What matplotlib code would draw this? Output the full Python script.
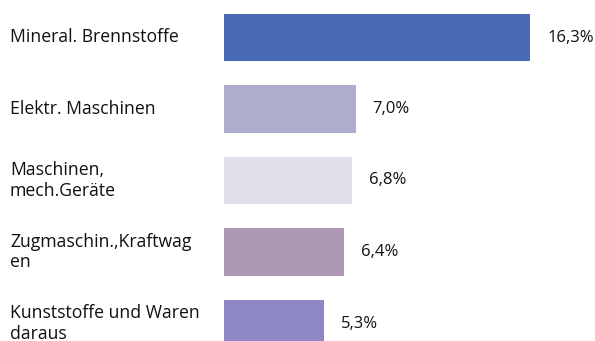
import matplotlib
matplotlib.use("Agg")
import matplotlib.pyplot as plt

categories = [
    "Mineral. Brennstoffe",
    "Elektr. Maschinen",
    "Maschinen,\nmech.Geräte",
    "Zugmaschin.,Kraftwag\nen",
    "Kunststoffe und Waren\ndaraus",
]
shares = [16.3, 7.0, 6.8, 6.4, 5.3]
value_labels = ["16,3%", "7,0%", "6,8%", "6,4%", "5,3%"]
colors = ["#4a6bb3", "#adadcd", "#e1e1ec", "#ad9ab2", "#8d88c4"]


def main() -> None:
    plt.rcParams["font.family"] = ["Open Sans", "DejaVu Sans"]
    fig = plt.figure(figsize=(5.95, 3.41), dpi=100)
    W, H = 595, 341
    # axes spans the bar area; bottom row runs off the canvas on purpose
    left, top, bottom = 224, 1.75, 359.25
    ax = fig.add_axes([left / W, (H - bottom) / H, (W - left) / W, (bottom - top) / H])
    ax.set_xlim(0, (W - left) / 18.8)
    ax.set_ylim(len(categories) - 0.5, -0.5)

    ypos = range(len(categories))
    ax.barh(ypos, shares, height=0.66, color=colors, align="center")

    for y, v, lab in zip(ypos, shares, value_labels):
        ax.annotate(lab, (v, y), xytext=(12.2, 0), textcoords="offset points",
                    va="center", ha="left", fontsize=12, color="#111111")

    for y, cat in zip(ypos, categories):
        ax.annotate(cat, (0, y), xycoords=("figure pixels", "data"),
                    xytext=(10 * 0.72, 0), textcoords="offset points",
                    va="center", ha="left", fontsize=12.7, color="#111111",
                    linespacing=1.2, annotation_clip=False)

    ax.axis("off")
    fig.savefig("out.png", dpi=100)


if __name__ == "__main__":
    main()
